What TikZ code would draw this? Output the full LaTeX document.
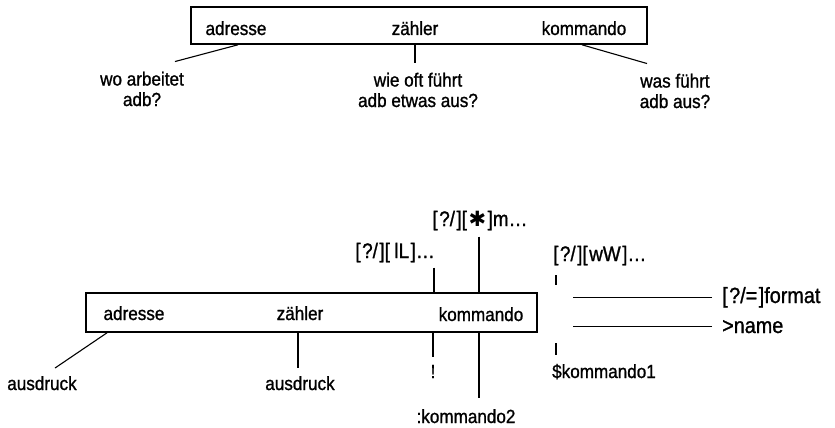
\documentclass[tikz,border=0pt]{standalone}
\usepackage{fontspec}
\setmainfont{Liberation Sans}[FakeStretch=0.9,FakeBold=1.1]
\newfontfamily\symfont{DejaVu Sans}
\newcommand\auf{[\kern1.5pt}
\newcommand\zu{\kern1.5pt]}

\tikzset{
  feld/.style={draw, line width=1.6pt, inner sep=0pt},
  wort/.style={anchor=base, inner sep=0pt, font=\fontsize{19}{20.5}\selectfont},
  frage/.style={wort, align=center},
  option/.style={wort, font=\fontsize{21}{22}\selectfont},
  gross/.style={wort, font=\fontsize{22}{23}\selectfont},
  strich/.style={line width=1.1pt},
}

\begin{document}
\begin{tikzpicture}[x=1pt,y=-1pt]
\useasboundingbox (0,0) rectangle (835,428);

% obere zeile
\node[feld, minimum width=456, minimum height=37] (oben) at (419,25.5) {};
\node[wort] (oadr) at (236,35) {adresse};
\node[wort] (ozae) at (415,35) {zähler};
\node[wort] (okom) at (584,35) {kommando};

\node[frage] (fadr) at (142,106) {wo arbeitet\\adb?};
\node[frage] (fzae) at (418,107) {wie oft führt\\adb etwas aus?};
\node[frage] (fkom) at (675,108) {was führt\\adb aus?};

\draw[strich] ([xshift=2pt]oadr |- oben.south) -- ([xshift=33pt,yshift=10pt]fadr.north);
\draw[strich] (ozae |- oben.south) -- ([yshift=10pt]ozae |- fzae.north);
\draw[strich] ([xshift=-2pt]okom |- oben.south) -- ([xshift=-28pt,yshift=10pt]fkom.north);

% untere zeile
\node[feld, minimum width=451, minimum height=39] (unten) at (311.5,312.5) {};
\node[wort] (uadr) at (134,320) {adresse};
\node[wort] (uzae) at (300,320) {zähler};
\node[wort] (ukom) at (481,321) {kommando};

\node[wort] (aus1) at (42,390) {ausdruck};
\node[wort] (aus2) at (300,390) {ausdruck};
\draw[strich] ([xshift=-27pt]uadr |- unten.south) -- ([xshift=13pt,yshift=8pt]aus1.north);
\draw[strich] ([xshift=-2pt]uzae |- unten.south) -- ([xshift=-2pt,yshift=8pt]aus2.north);

\node[option, anchor=base east] (lL) at (435,258) {\auf?/\zu\auf\kern3pt lL\zu\dots};
\node[option] (mm) at (480,226) {\auf?/\zu\auf{\symfont ✱}\zu m\dots};
\draw[strich] ([xshift=-1pt,yshift=-5pt]lL.south east) -- ([xshift=-1pt]lL.south east |- unten.north);
\draw[strich] ([xshift=-1pt,yshift=-6pt]mm.south) -- ([xshift=-1pt]mm.south |- unten.north);

\node[wort] (ausruf) at (433,378) {!};
\node[wort] (kom2) at (466,423) {:kommando2};
\draw[strich] (ausruf |- unten.south) -- ([yshift=8pt]ausruf.north);
\draw[strich] ([xshift=-2pt]ukom |- unten.south) -- ([xshift=13pt,yshift=11pt]kom2.north);

% rechte seite
\node[option, anchor=base west] (ww) at (553,261) {\auf?/\zu\auf wW\zu\dots};
\node[gross, anchor=base west] (fmt) at (722,303) {\auf?/=\zu format};
\node[gross, anchor=base west] (nam) at (722,333) {>name};
\node[wort, anchor=base west] (kom1) at (552,378) {\$kommando1};
\draw[strich] ([xshift=3pt,yshift=-14pt]ww.base west) -- ++(0,10);
\draw[strich] ([xshift=-10pt]fmt.west) -- ([xshift=-149pt]fmt.west);
\draw[strich] ([xshift=-10pt]nam.west) -- ([xshift=-149pt]nam.west);
\draw[strich] ([xshift=4pt,yshift=35pt]kom1.base west) -- ++(0,12);
\end{tikzpicture}
\end{document}
